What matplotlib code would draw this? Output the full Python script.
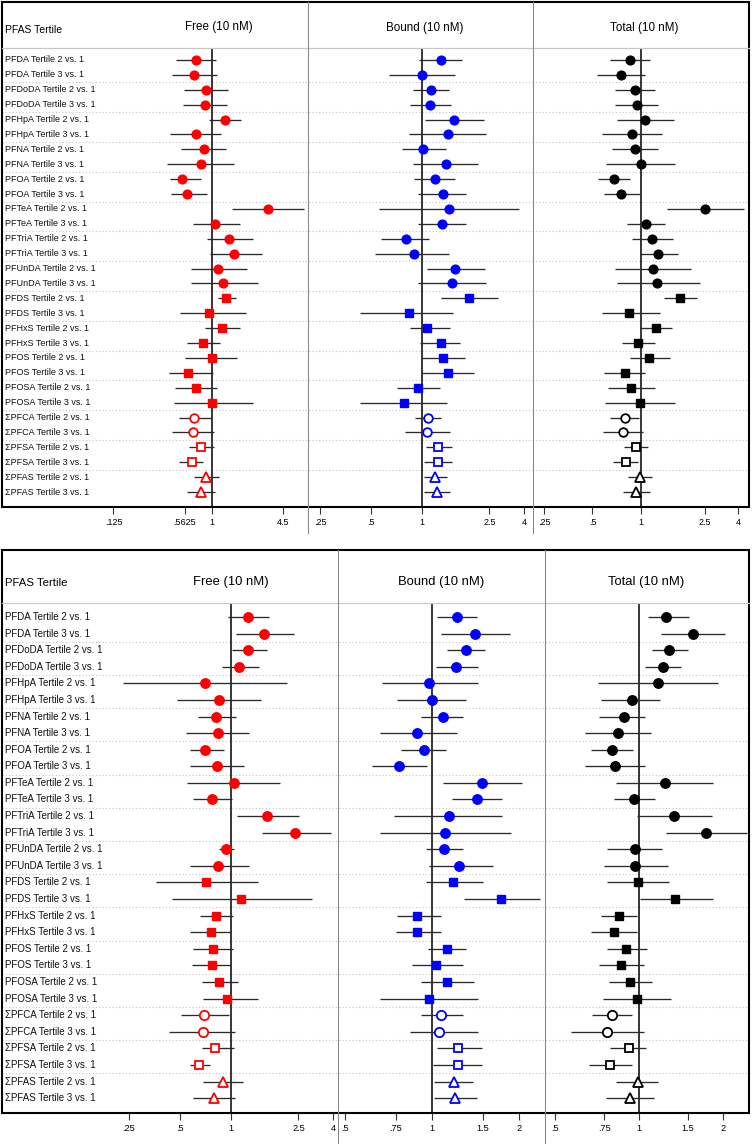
import numpy as np
import matplotlib
matplotlib.use("Agg")
import matplotlib.pyplot as plt
from matplotlib.patches import Rectangle
from matplotlib.lines import Line2D

plt.rcParams['font.family'] = ['Liberation Sans', 'DejaVu Sans']

# ---------------- data ----------------
labels = [
    "PFDA Tertile 2 vs. 1", "PFDA Tertile 3 vs. 1",
    "PFDoDA Tertile 2 vs. 1", "PFDoDA Tertile 3 vs. 1",
    "PFHpA Tertile 2 vs. 1", "PFHpA Tertile 3 vs. 1",
    "PFNA Tertile 2 vs. 1", "PFNA Tertile 3 vs. 1",
    "PFOA Tertile 2 vs. 1", "PFOA Tertile 3 vs. 1",
    "PFTeA Tertile 2 vs. 1", "PFTeA Tertile 3 vs. 1",
    "PFTriA Tertile 2 vs. 1", "PFTriA Tertile 3 vs. 1",
    "PFUnDA Tertile 2 vs. 1", "PFUnDA Tertile 3 vs. 1",
    "PFDS Tertile 2 vs. 1", "PFDS Tertile 3 vs. 1",
    "PFHxS Tertile 2 vs. 1", "PFHxS Tertile 3 vs. 1",
    "PFOS Tertile 2 vs. 1", "PFOS Tertile 3 vs. 1",
    "PFOSA Tertile 2 vs. 1", "PFOSA Tertile 3 vs. 1",
    "ΣPFCA Tertile 2 vs. 1", "ΣPFCA Tertile 3 vs. 1",
    "ΣPFSA Tertile 2 vs. 1", "ΣPFSA Tertile 3 vs. 1",
    "ΣPFAS Tertile 2 vs. 1", "ΣPFAS Tertile 3 vs. 1",
]
column_titles = ["Free (10 nM)", "Bound (10 nM)", "Total (10 nM)"]
header_label = "PFAS Tertile"

# top panel
top_free_or = [0.71,0.68,0.88,0.86,1.32,0.71,0.84,0.79,0.53,0.59,3.26,1.07,1.43,1.59,1.14,1.26,1.34,0.94,1.24,0.83,1.00,0.60,0.71,1.00,0.68,0.67,0.79,0.66,0.88,0.79]
top_free_lo = [0.47,0.43,0.55,0.54,0.94,0.41,0.52,0.39,0.41,0.42,1.53,0.67,0.90,0.96,0.64,0.64,1.14,0.51,0.86,0.59,0.57,0.40,0.46,0.45,0.50,0.43,0.62,0.50,0.68,0.59]
top_free_hi = [1.09,1.11,1.40,1.37,1.84,1.21,1.34,1.59,0.79,0.90,6.97,1.81,2.38,2.87,2.09,2.64,1.66,2.05,1.81,1.18,1.69,1.02,1.11,2.38,0.98,1.04,1.04,0.83,1.16,1.07]

top_bound_or = [1.29,1.00,1.13,1.12,1.55,1.42,1.02,1.38,1.19,1.33,1.44,1.31,0.80,0.90,1.57,1.50,1.89,0.84,1.07,1.29,1.33,1.42,0.95,0.78,1.08,1.07,1.25,1.24,1.20,1.22]
top_bound_lo = [0.96,0.64,0.88,0.85,1.04,0.84,0.76,0.89,0.90,0.95,0.56,0.95,0.57,0.53,1.07,0.95,1.29,0.43,0.85,0.97,1.00,1.00,0.71,0.43,0.91,0.79,1.05,1.03,1.03,1.03]
top_bound_hi = [1.72,1.56,1.44,1.49,2.33,2.40,1.39,2.14,1.57,1.82,3.74,1.82,1.10,1.44,2.35,2.38,2.81,1.52,1.46,1.68,1.79,2.03,1.28,1.40,1.30,1.46,1.50,1.50,1.40,1.46]

top_total_or = [0.85,0.75,0.92,0.94,1.06,0.88,0.92,1.00,0.68,0.75,2.49,1.07,1.17,1.27,1.19,1.26,1.75,0.84,1.24,0.96,1.12,0.80,0.87,0.98,0.80,0.77,0.93,0.81,0.99,0.93]
top_total_lo = [0.64,0.53,0.69,0.69,0.71,0.57,0.66,0.61,0.54,0.59,1.45,0.82,0.88,0.99,0.69,0.71,1.39,0.57,0.99,0.76,0.85,0.59,0.62,0.60,0.64,0.58,0.78,0.67,0.83,0.77]
top_total_hi = [1.13,1.06,1.23,1.27,1.60,1.35,1.27,1.62,0.85,0.99,4.35,1.41,1.58,1.70,2.04,2.32,2.23,1.31,1.56,1.22,1.51,1.06,1.22,1.62,0.97,1.03,1.10,0.96,1.17,1.13]

# bottom panel
bot_free_or = [1.26,1.57,1.26,1.12,0.70,0.85,0.82,0.84,0.70,0.83,1.04,0.77,1.63,2.39,0.93,0.84,0.71,1.15,0.82,0.76,0.78,0.77,0.85,0.95,0.69,0.68,0.80,0.65,0.90,0.79]
bot_free_lo = [0.96,1.07,1.02,0.88,0.23,0.48,0.64,0.54,0.57,0.57,0.55,0.60,1.08,1.52,0.85,0.57,0.36,0.45,0.66,0.57,0.60,0.59,0.67,0.68,0.51,0.43,0.67,0.57,0.68,0.60]
bot_free_hi = [1.67,2.34,1.63,1.46,2.14,1.50,1.07,1.28,0.91,1.19,1.95,1.01,2.52,3.89,1.04,1.28,1.44,3.01,1.03,1.00,1.03,1.00,1.10,1.44,0.97,1.06,1.04,0.75,1.17,1.06]

bot_bound_or = [1.22,1.41,1.31,1.21,0.98,1.00,1.09,0.89,0.94,0.77,1.49,1.43,1.14,1.11,1.10,1.24,1.18,1.73,0.89,0.89,1.13,1.03,1.13,0.98,1.07,1.06,1.23,1.23,1.19,1.20]
bot_bound_lo = [1.04,1.07,1.13,1.03,0.67,0.76,0.92,0.66,0.78,0.62,1.09,1.17,0.74,0.66,0.95,0.98,0.95,1.29,0.76,0.75,0.97,0.85,0.92,0.66,0.92,0.84,1.04,1.01,1.02,1.02]
bot_bound_hi = [1.43,1.86,1.52,1.44,1.44,1.31,1.28,1.22,1.12,0.96,2.04,1.74,1.74,1.87,1.28,1.62,1.50,2.36,1.07,1.07,1.31,1.28,1.40,1.44,1.28,1.44,1.49,1.49,1.39,1.43]

bot_total_or = [1.25,1.56,1.28,1.22,1.17,0.94,0.88,0.84,0.80,0.82,1.24,0.96,1.34,1.74,0.97,0.97,0.99,1.35,0.85,0.81,0.90,0.86,0.93,0.98,0.80,0.77,0.92,0.79,0.99,0.93]
bot_total_lo = [1.08,1.20,1.11,1.05,0.71,0.73,0.72,0.64,0.67,0.64,0.83,0.81,0.98,1.25,0.77,0.75,0.77,1.01,0.73,0.67,0.77,0.72,0.78,0.74,0.68,0.57,0.79,0.66,0.83,0.76]
bot_total_hi = [1.51,2.04,1.50,1.41,1.92,1.19,1.05,1.10,0.95,1.05,1.84,1.14,1.83,2.44,1.21,1.27,1.28,1.84,0.98,0.98,1.07,1.04,1.11,1.30,0.94,1.04,1.06,0.94,1.17,1.13]

top_free_ticks = [0.125, 0.5625, 1, 4.5]
top_free_ticklabels = [".125", ".5625", "1", "4.5"]
top_other_ticks = [0.25, 0.5, 1, 2.5, 4]
top_other_ticklabels = [".25", ".5", "1", "2.5", "4"]
bot_free_ticks = [0.25, 0.5, 1, 2.5, 4]
bot_free_ticklabels = [".25", ".5", "1", "2.5", "4"]
bot_other_ticks = [0.5, 0.75, 1, 1.5, 2]
bot_other_ticklabels = [".5", ".75", "1", "1.5", "2"]

# ---------------- layout ----------------
W, H = 752, 1144
fig = plt.figure(figsize=(W / 100, H / 100), dpi=100)
fig.patch.set_facecolor("white")

col_colors = ["#ff0000", "#0000ff", "#000000"]


def add_axes_px(x0, y0, x1, y1):
    return fig.add_axes([x0 / W, 1 - y1 / H, (x1 - x0) / W, (y1 - y0) / H])


def style_for(label, scale):
    name = label.split()[0]
    if name == "ΣPFCA":
        return "o", False, 6.2 * scale
    if name == "ΣPFSA":
        return "s", False, 5.8 * scale
    if name == "ΣPFAS":
        return "^", False, 6.6 * scale
    if name in ("PFDS", "PFHxS", "PFOS", "PFOSA"):
        return "s", True, 5.7 * scale
    return "o", True, 6.3 * scale


def draw_panel(cfg, series, ticks_list, ticklabels_list):
    bx0, by0, bx1, by1 = cfg["box"]
    hy = cfg["header_y"]
    r1, sp = cfg["row1_y"], cfg["row_sp"]
    ytop = 1 - (r1 - hy) / sp
    ybot = 1 + (by1 - r1) / sp
    n = len(labels)
    ypos = np.arange(1, n + 1)

    lax = add_axes_px(bx0, hy, bx1, by1)
    lax.set_xlim(0, 1)
    lax.set_ylim(ybot, ytop)
    lax.axis("off")
    for yy in np.arange(2.5, n, 2):
        lax.axhline(yy, color="#c4c4c4", lw=0.8, ls=(0, (1, 2)), zorder=0)
    for yy, lab in zip(ypos, labels):
        lax.text((cfg["label_x"] - bx0) / (bx1 - bx0), yy, lab,
                 fontsize=cfg["label_fs"], va="center", ha="left", color="#111111")

    for ci, ((x0, x1), one, k) in enumerate(zip(cfg["cols"], cfg["one_px"], cfg["scale"])):
        ax = add_axes_px(x0, hy, x1, by1)
        ax.set_facecolor("none")
        ax.set_xscale("log")
        ax.set_xlim(np.exp((x0 - one) / k), np.exp((x1 - one) / k))
        ax.set_ylim(ybot, ytop)
        for s in ax.spines.values():
            s.set_visible(False)
        ax.set_yticks([])
        ax.set_xticks(ticks_list[ci])
        ax.set_xticklabels(ticklabels_list[ci])
        ax.xaxis.set_minor_locator(matplotlib.ticker.NullLocator())
        ax.tick_params(axis="x", direction="out", length=4.8, width=0.8,
                       labelsize=cfg["tick_fs"], pad=3.2, color="#333333")
        ax.axvline(1, color="black", lw=1.1, zorder=2)
        orv, lov, hiv = series[ci]
        col = col_colors[ci]
        for yy, lab, o, lo, hi in zip(ypos, labels, orv, lov, hiv):
            ax.hlines(yy, lo, hi, color="#2a2a2a", lw=0.95, zorder=3)
            m, filled, ms = style_for(lab, cfg["marker_scale"])
            if filled:
                ax.plot([o], [yy], marker=m, ms=ms, color=col, mec=col, ls="none", zorder=4)
            else:
                ax.plot([o], [yy], marker=m, ms=ms, mfc="white", mec=col, mew=1.3,
                        ls="none", zorder=4)

    fig.add_artist(Line2D([bx0 / W, bx1 / W], [1 - hy / H, 1 - hy / H],
                          transform=fig.transFigure, color="#c8c8c8", lw=0.9))
    for sx in cfg["seps"]:
        fig.add_artist(Line2D([sx / W, sx / W], [1 - by0 / H, 1 - cfg["sep_bottom"] / H],
                              transform=fig.transFigure, color="#8a8a8a", lw=0.8))
    fig.add_artist(Rectangle((bx0 / W, 1 - by1 / H), (bx1 - bx0) / W, (by1 - by0) / H,
                             transform=fig.transFigure, fill=False, ec="black", lw=1.5))
    fig.text(cfg["label_x"] / W, 1 - cfg["hdr_label_y"] / H, header_label,
             fontsize=cfg["hdr_label_fs"], va="center", ha="left")
    for tx, ty, t in zip(cfg["title_x"], cfg["title_y"], column_titles):
        fig.text(tx / W, 1 - ty / H, t, fontsize=cfg["title_fs"], va="center", ha="center")


top_cfg = dict(box=(2, 2, 749, 507), header_y=48, row1_y=60, row_sp=14.9,
               cols=[(2, 308), (308, 533), (533, 749)], one_px=[212, 422, 641],
               scale=[47.4, 73.6, 70.0], seps=[308, 533], sep_bottom=533,
               label_x=5, label_fs=6.5, tick_fs=6.5, hdr_label_fs=7.5, hdr_label_y=30,
               title_fs=8.4, title_x=[218.5, 424.5, 644.5], title_y=[27, 28, 28],
               marker_scale=1.0)
bot_cfg = dict(box=(2, 550, 749, 1113), header_y=603, row1_y=617, row_sp=16.59,
               cols=[(2, 338), (338, 545), (545, 749)], one_px=[231, 432, 639],
               scale=[73.6, 126.0, 121.0], seps=[338, 545], sep_bottom=1144,
               label_x=5, label_fs=7.0, tick_fs=6.6, hdr_label_fs=8.2, hdr_label_y=583,
               title_fs=9.4, title_x=[230.5, 441, 646], title_y=[582, 582, 582],
               marker_scale=1.08)

draw_panel(top_cfg,
           [(top_free_or, top_free_lo, top_free_hi),
            (top_bound_or, top_bound_lo, top_bound_hi),
            (top_total_or, top_total_lo, top_total_hi)],
           [top_free_ticks, top_other_ticks, top_other_ticks],
           [top_free_ticklabels, top_other_ticklabels, top_other_ticklabels])
draw_panel(bot_cfg,
           [(bot_free_or, bot_free_lo, bot_free_hi),
            (bot_bound_or, bot_bound_lo, bot_bound_hi),
            (bot_total_or, bot_total_lo, bot_total_hi)],
           [bot_free_ticks, bot_other_ticks, bot_other_ticks],
           [bot_free_ticklabels, bot_other_ticklabels, bot_other_ticklabels])

fig.savefig("out.png", dpi=100, facecolor="white")
